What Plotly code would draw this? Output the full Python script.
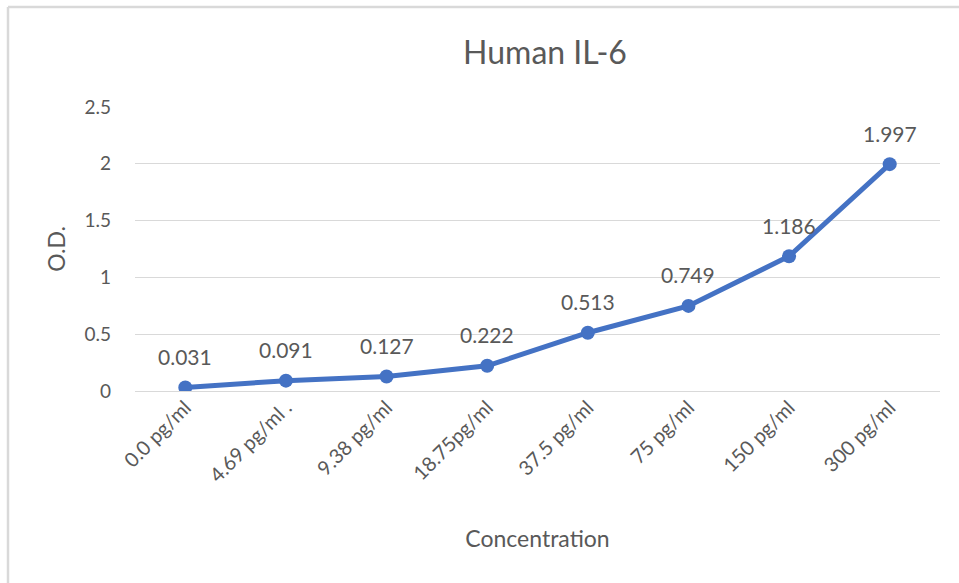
import plotly.graph_objects as go

categories = ["0.0 pg/ml", "4.69 pg/ml .", "9.38 pg/ml", "18.75pg/ml",
              "37.5 pg/ml", "75 pg/ml", "150 pg/ml", "300 pg/ml"]
od_values = [0.031, 0.091, 0.127, 0.222, 0.513, 0.749, 1.186, 1.997]
y_ticks = [0, 0.5, 1, 1.5, 2, 2.5]
y_tick_labels = ["0", "0.5", "1", "1.5", "2", "2.5"]

FONT = "Lato, 'Open Sans', sans-serif"
GRAY = "#595959"
BLUE = "#4472C4"

fig = go.Figure()
fig.add_trace(go.Scatter(
    x=categories, y=od_values, mode="lines+markers",
    line=dict(color=BLUE, width=5),
    marker=dict(color=BLUE, size=14),
    hoverinfo="x+y", showlegend=False,
))

for c, v in zip(categories, od_values):
    fig.add_annotation(x=c, y=v, text=f"{v:g}", showarrow=False,
                       yshift=31, font=dict(family=FONT, size=21, color=GRAY))

L, R, T, B = 135, 19, 107, 192
W, H = 959, 583
pw, ph = W - L - R, H - T - B

def px_x(p):
    return (p - L) / pw

def px_y(p):
    return (H - B - p) / ph

# chart-area border (left and top edges visible)
fig.add_shape(type="line", xref="paper", yref="paper",
              x0=px_x(8), x1=px_x(W + 5), y0=px_y(7), y1=px_y(7),
              line=dict(color="#D9D9D9", width=2.5))
fig.add_shape(type="line", xref="paper", yref="paper",
              x0=px_x(8), x1=px_x(8), y0=px_y(7), y1=px_y(H + 5),
              line=dict(color="#D9D9D9", width=2.5))

fig.update_layout(
    width=W, height=H,
    margin=dict(l=L, r=R, t=T, b=B),
    paper_bgcolor="white", plot_bgcolor="white",
    title=dict(text="Human IL-6", x=545 / W, xanchor="center",
               y=1 - 53 / H, yanchor="middle",
               font=dict(family=FONT, size=32, color=GRAY)),
    font=dict(family=FONT, color=GRAY),
    xaxis=dict(
        type="category", range=[-0.5, 7.5],
        tickangle=-45, tickfont=dict(size=20, color=GRAY, family=FONT),
        showgrid=False, showline=False, ticks="",
        title=dict(text="Concentration", standoff=45,
                   font=dict(size=23, color=GRAY, family=FONT)),
    ),
    yaxis=dict(
        range=[0, 2.5], tickvals=y_ticks, ticktext=y_tick_labels,
        tickfont=dict(size=19, color=GRAY, family=FONT),
        showgrid=True, gridcolor="#D9D9D9", gridwidth=1,
        zeroline=True, zerolinecolor="#D9D9D9", zerolinewidth=1,
        showline=False, ticks="", ticklen=0,
        title=dict(text="O.D.", standoff=12,
                   font=dict(size=23, color=GRAY, family=FONT)),
        ticklabelstandoff=23,
    ),
)

fig.write_html("out.html", config={"displayModeBar": False},
               post_script="document.body.style.margin='0';")
